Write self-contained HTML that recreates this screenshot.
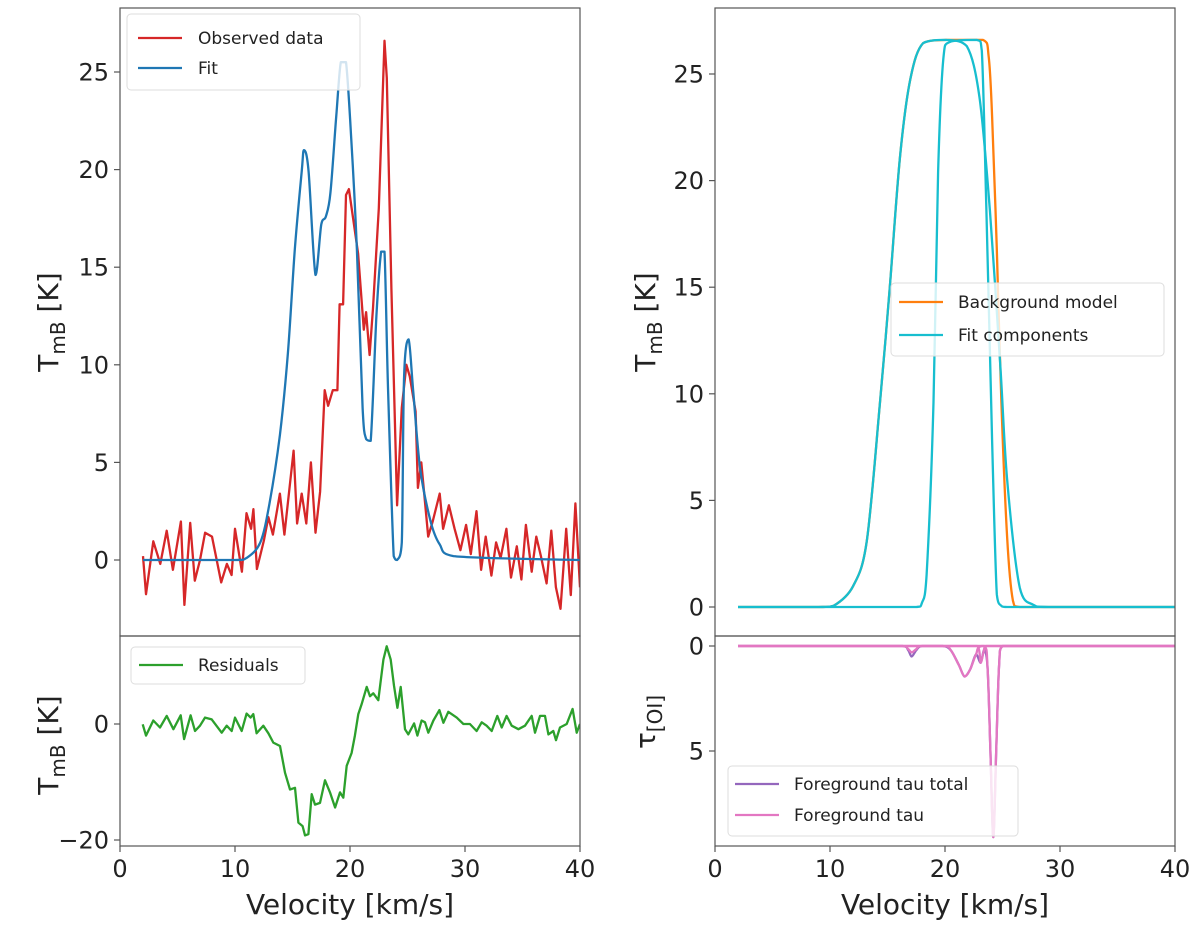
<!DOCTYPE html>
<html><head><meta charset="utf-8">
<style>
body{margin:0;background:#fff;}
svg{display:block;font-family:"DejaVu Sans","Liberation Sans",sans-serif;}
</style></head>
<body>
<svg id="chart" width="1200" height="927" viewBox="0 0 1200 927" xmlns="http://www.w3.org/2000/svg"></svg>
<script>
// ---------- data ----------
const obsV = [2.0,2.26,2.9,3.5,4.06,4.6,5.3,5.6,6.1,6.5,6.96,7.4,8,8.8,9.3,9.7,10,10.6,11,11.4,11.6,11.9,12.5,12.9,13.3,13.9,14.3,15.1,15.4,15.8,16.2,16.6,17,17.4,17.8,18.1,18.5,18.9,19.1,19.4,19.65,19.9,20.3,20.7,21.2,21.4,21.7,22,22.5,23,23.2,23.6,24.1,24.5,24.9,25.2,25.7,25.9,26.2,26.8,27.2,27.8,28.1,28.6,29.1,29.6,30.1,30.5,31,31.4,31.8,32.3,32.7,33.1,33.6,34,34.5,34.9,35.3,35.8,36.2,36.6,37.1,37.5,37.9,38.3,38.8,39.2,39.6,40];
const obsT = [0.2,-1.75,0.96,-0.2,1.5,-0.5,1.97,-2.3,1.9,-1.06,0,1.4,1.2,-1.15,-0.2,-0.77,1.6,-0.6,2.4,1.6,2.6,-0.46,0.98,2.2,1.3,3.4,1.3,5.6,1.87,3.4,1.87,5,1.4,3.5,8.7,7.9,8.7,8.7,13.1,13.1,18.7,19,17.4,15.7,11.8,12.7,10.5,12.9,18,26.6,24.7,13.9,2.8,7.8,10,9.4,7.6,3.7,5,1.2,2,3.4,1.6,2.8,1.6,0.5,1.8,0.3,2.5,-0.5,1.2,-0.8,0.9,0.1,1.6,-0.9,0.7,-1.0,1.8,-0.6,1.2,0.2,-1.2,1.5,-1.4,-2.5,1.6,-1.8,2.9,-1.4];
const fitV = [2,10,11,12.2,13,13.9,14.6,15.2,15.8,16,16.4,17,17.5,17.9,18.3,18.8,19.2,19.65,20.1,20.6,21.1,21.4,21.8,22.3,22.7,23,23.3,23.8,24.1,24.5,24.7,25.1,25.5,26.1,27,27.8,29,40];
const fitT = [0,0,0.1,0.9,2.9,6.4,10.6,15.9,19.9,21,19.9,14.6,17.2,17.6,18.8,22.7,25.5,25.5,21.7,15.9,7.8,6.2,6.1,12.5,15.8,15.8,9.0,0.2,0,0.9,9.4,11.3,8.6,4.7,2,0.8,0.2,0];
const resV = [1.97,2.26,2.9,3.48,4.06,4.64,5.28,5.57,6.14,6.52,6.96,7.39,7.97,8.84,9.28,9.71,10,10.58,11.01,11.36,11.59,11.88,12.46,12.9,13.33,13.91,14.35,14.78,15.22,15.51,15.88,16.09,16.38,16.67,16.96,17.39,17.83,18.26,18.7,19.13,19.42,19.71,20.14,20.43,20.72,21.01,21.45,21.74,22.03,22.46,22.9,23.19,23.54,23.83,24.12,24.41,24.78,25.07,25.57,25.86,26.23,26.52,26.81,27.25,27.77,28.12,28.55,29.28,29.86,30.43,31.01,31.45,31.88,32.32,32.81,33.19,33.62,34.06,34.64,35.22,35.8,36.09,36.52,36.96,37.25,37.68,37.91,38.26,38.84,39.36,39.71,40];
const resT = [-0.05,-2,0.6,-0.6,1.4,-0.9,1.5,-2.6,1.5,-1.2,-0.3,1.1,0.8,-1.5,-0.3,-1.2,1.1,-1.2,1.8,1.1,1.7,-1.6,-0.3,-1.6,-3.2,-3.8,-8.4,-11.3,-11.0,-17.0,-17.6,-19.2,-19.0,-12.1,-13.9,-13.6,-9.7,-11.8,-14.4,-11.8,-12.7,-7.2,-5.0,-2,1.7,3.4,6.4,4.8,5.3,4.1,11.1,13.4,11.1,6.6,2.8,6.4,-0.9,-1.8,0.1,-2,0.6,0.3,-1.5,0.6,2.4,0.2,2.1,1.1,0,0,-1.2,0.3,-0.3,-1.2,1.4,-0.6,1.4,-0.3,-0.9,-0.3,1.4,-1.5,1.4,1.4,-1.8,-1.2,-2.8,-0.6,0,2.6,-1.5,0];
const bgV = [2,9,10.3,12,13.2,14.35,15.2,16.1,17,18.1,20.1,23.3,23.8,24.1,24.5,24.9,25.4,25.9,26.5,40];
const bgT = [0,0,0.05,0.97,3.1,9.6,15,21.2,24.8,26.45,26.6,26.6,25.8,23,16.8,9.6,3.3,0.3,0,0];
const compAV = [2,9,10.3,12,13.2,14.35,15.2,16.1,17,18.1,20.1,21.9,23,23.9,24.8,25.4,26.5,27.7,29,40];
const compAT = [0,0,0.05,0.97,3.1,9.6,15,21.2,24.8,26.45,26.6,26.3,23.9,18.6,11.4,6.0,0.9,0.1,0,0];
const compBV = [2,17.5,18.0,18.4,19.0,19.4,19.85,20.4,22.75,23.2,23.6,24.1,24.5,24.9,25.4,40];
const compBT = [0,0,0.2,1.5,9.6,20.4,25.7,26.5,26.6,26.1,18.6,7.8,0.6,0.05,0,0];
const tau1V = [2,16.3,16.8,17.1,17.5,18,40];
const tau1T = [0,0,0.15,0.3,0.15,0,0];
const tau2V = [2,19.8,20.5,21.2,21.7,22.2,22.7,23.2,40];
const tau2T = [0,0,0.2,0.9,1.45,1.1,0.4,0,0];
const tau3V = [2,22.8,23.1,23.35,23.6,40];
const tau3T = [0,0,0.8,0.3,0,0];
const tau4V = [2,23.4,23.7,23.95,24.2,24.45,24.7,25.0,40];
const tau4T = [0,0,1.0,5.0,9.1,5.0,1.0,0,0];
const totV = [2,16.3,16.8,17.1,17.5,18,19.8,20.5,21.2,21.7,22.2,22.7,23.1,23.4,23.7,23.95,24.2,24.45,24.7,25,40];
const totT = [0,0,0.2,0.5,0.2,0,0,0.2,0.9,1.45,1.1,0.4,0.8,0.2,1,5,9.1,5,1,0,0];
const xTicks = [0,10,20,30,40];
const yTicksTL = [0,5,10,15,20,25];
const yTicksBL = [0,-20];
const yTicksTR = [0,5,10,15,20,25];
const yTicksBR = [0,5];

// ---------- helpers ----------
const svg = document.getElementById('chart');
const NS = 'http://www.w3.org/2000/svg';
function mk(tag, attrs, parent){const e=document.createElementNS(NS,tag);for(const k in attrs)e.setAttribute(k,attrs[k]);(parent||svg).appendChild(e);return e;}
function lin(d0,d1,r0,r1){return v=>r0+(v-d0)*(r1-r0)/(d1-d0);}
function polyPath(xs,ys,sx,sy){return xs.map((v,i)=>(i?'L':'M')+sx(v).toFixed(1)+','+sy(ys[i]).toFixed(1)).join('');}
function smoothPath(xs,ys,sx,sy){
  const p=xs.map((v,i)=>[sx(v),sy(ys[i])]);
  let d='M'+p[0][0].toFixed(1)+','+p[0][1].toFixed(1);
  for(let i=0;i<p.length-1;i++){
    const p0=p[Math.max(0,i-1)],p1=p[i],p2=p[i+1],p3=p[Math.min(p.length-1,i+2)];
    const t=0.16;
    let c1x=p1[0]+(p2[0]-p0[0])*t,c1y=p1[1]+(p2[1]-p0[1])*t;
    let c2x=p2[0]-(p3[0]-p1[0])*t,c2y=p2[1]-(p3[1]-p1[1])*t;
    c1x=Math.min(Math.max(c1x,p1[0]),p2[0]);c2x=Math.min(Math.max(c2x,p1[0]),p2[0]);
    const lo=Math.min(p1[1],p2[1]),hi=Math.max(p1[1],p2[1]);
    c1y=Math.min(Math.max(c1y,lo),hi);c2y=Math.min(Math.max(c2y,lo),hi);
    d+='C'+c1x.toFixed(1)+','+c1y.toFixed(1)+' '+c2x.toFixed(1)+','+c2y.toFixed(1)+' '+p2[0].toFixed(1)+','+p2[1].toFixed(1);
  }
  return d;
}

// panels
const L0=120,L1=580,R0=715,R1=1175,TOP=8,MID=636,BOT=846;
const sxL=lin(0,40,L0,L1), sxR=lin(0,40,R0,R1);
const syTL=lin(0,25,560,72), syBL=lin(0,-20,724,840);
const syTR=lin(0,25,607,74), syBR=lin(0,5,646,751);

// clip paths
const defs=mk('defs',{});
[['cTL',L0,TOP,MID],['cBL',L0,MID,BOT],['cTR',R0,TOP,MID],['cBR',R0,MID,BOT]].forEach(c=>{
  const cp=mk('clipPath',{id:c[0]},defs);
  mk('rect',{x:c[1],y:c[2],width:460,height:c[3]-c[2]},cp);
});

function line(d,color,clip,name){
  const e=mk('path',{d:d,fill:'none',stroke:color,'stroke-width':2.3,'stroke-linejoin':'round','clip-path':'url(#'+clip+')'});
  
  
  return e;
}

// series
line(polyPath(obsV,obsT,sxL,syTL),'#d62728','cTL','observed-data-line');
line(smoothPath(fitV,fitT,sxL,syTL),'#1f77b4','cTL','fit-line');
line(polyPath(resV,resT,sxL,syBL),'#2ca02c','cBL','residuals-line');
line(smoothPath(bgV,bgT,sxR,syTR),'#ff7f0e','cTR','background-model-line');
line(smoothPath(compAV,compAT,sxR,syTR),'#17becf','cTR','fit-component-broad');
line(smoothPath(compBV,compBT,sxR,syTR),'#17becf','cTR','fit-component-narrow');
line(smoothPath(totV,totT,sxR,syBR),'#9467bd','cBR','foreground-tau-total-line');
line(smoothPath(tau1V,tau1T,sxR,syBR),'#e377c2','cBR','foreground-tau-1');
line(smoothPath(tau2V,tau2T,sxR,syBR),'#e377c2','cBR','foreground-tau-2');
line(smoothPath(tau3V,tau3T,sxR,syBR),'#e377c2','cBR','foreground-tau-3');
line(smoothPath(tau4V,tau4T,sxR,syBR),'#e377c2','cBR','foreground-tau-4');

// frames
function frame(x0,y0,x1,y1,name){
  const r=mk('rect',{x:x0,y:y0,width:x1-x0,height:y1-y0,fill:'none',stroke:'#555','stroke-width':1.2});
  
  
}
frame(L0,TOP,L1,MID,'top-left-axes');frame(L0,MID,L1,BOT,'bottom-left-axes');
frame(R0,TOP,R1,MID,'top-right-axes');frame(R0,MID,R1,BOT,'bottom-right-axes');

function yTicks(vals,sy,x0,name){
  vals.forEach(v=>{
    const y=sy(v);
    mk('line',{x1:x0-6,x2:x0,y1:y,y2:y,stroke:'#555','stroke-width':1.2});
    const t=mk('text',{x:x0-11,y:y+8.5,'text-anchor':'end','font-size':24,fill:'#222'});
    t.textContent=v<0?'\u2212'+Math.abs(v):String(v);
    
    
  });
}
yTicks(yTicksTL,syTL,L0,'y-tick-label-top-left');
yTicks(yTicksBL,syBL,L0,'y-tick-label-bottom-left');
yTicks(yTicksTR,syTR,R0,'y-tick-label-top-right');
yTicks(yTicksBR,syBR,R0,'y-tick-label-bottom-right');
function xTicksDraw(sx,name){
  xTicks.forEach(v=>{
    const x=sx(v);
    mk('line',{x1:x,x2:x,y1:BOT,y2:BOT+6,stroke:'#555','stroke-width':1.2});
    const t=mk('text',{x:x,y:BOT+31,'text-anchor':'middle','font-size':24,fill:'#222'});
    t.textContent=String(v);
    
    
  });
}
xTicksDraw(sxL,'x-tick-label-left');xTicksDraw(sxR,'x-tick-label-right');
</script>
<!-- axis titles and legends (static) -->
<svg style="position:absolute;left:0;top:0" width="1200" height="927" font-family="DejaVu Sans, Liberation Sans, sans-serif">
  <text x="350" y="914" text-anchor="middle" font-size="28" fill="#222">Velocity [km/s]</text>
  <text x="945" y="914" text-anchor="middle" font-size="28" fill="#222">Velocity [km/s]</text>
  <text transform="translate(58,322) rotate(-90)" text-anchor="middle" font-size="28" fill="#222">T<tspan font-size="20" dy="7">mB</tspan><tspan dy="-7"> [K]</tspan></text>
  <text transform="translate(58,745) rotate(-90)" text-anchor="middle" font-size="28" fill="#222">T<tspan font-size="20" dy="7">mB</tspan><tspan dy="-7"> [K]</tspan></text>
  <text transform="translate(655,322) rotate(-90)" text-anchor="middle" font-size="28" fill="#222">T<tspan font-size="20" dy="7">mB</tspan><tspan dy="-7"> [K]</tspan></text>
  <text transform="translate(655,722) rotate(-90)" text-anchor="middle" font-size="28" fill="#222">τ<tspan font-size="20" dy="7">[OI]</tspan></text>

  <g>
    <rect x="127" y="14" width="233" height="76" rx="4" fill="#fff" fill-opacity="0.8" stroke="#ddd"/>
    <line x1="138" x2="182" y1="38" y2="38" stroke="#d62728" stroke-width="2.3"/>
    <text x="198" y="44" font-size="17" fill="#222">Observed data</text>
    <line x1="138" x2="182" y1="68" y2="68" stroke="#1f77b4" stroke-width="2.3"/>
    <text x="198" y="74" font-size="17" fill="#222">Fit</text>
  </g>
  <g>
    <rect x="131" y="647" width="174" height="37" rx="4" fill="#fff" fill-opacity="0.8" stroke="#ddd"/>
    <line x1="139" x2="183" y1="665" y2="665" stroke="#2ca02c" stroke-width="2.3"/>
    <text x="198" y="671" font-size="17" fill="#222">Residuals</text>
  </g>
  <g>
    <rect x="891" y="283" width="273" height="73" rx="4" fill="#fff" fill-opacity="0.8" stroke="#ddd"/>
    <line x1="899" x2="943" y1="302" y2="302" stroke="#ff7f0e" stroke-width="2.3"/>
    <text x="958" y="308" font-size="17" fill="#222">Background model</text>
    <line x1="899" x2="943" y1="335" y2="335" stroke="#17becf" stroke-width="2.3"/>
    <text x="958" y="341" font-size="17" fill="#222">Fit components</text>
  </g>
  <g>
    <rect x="728" y="766" width="290" height="70" rx="4" fill="#fff" fill-opacity="0.8" stroke="#ddd"/>
    <line x1="735" x2="779" y1="784" y2="784" stroke="#9467bd" stroke-width="2.3"/>
    <text x="794" y="790" font-size="17" fill="#222">Foreground tau total</text>
    <line x1="735" x2="779" y1="815" y2="815" stroke="#e377c2" stroke-width="2.3"/>
    <text x="794" y="821" font-size="17" fill="#222">Foreground tau</text>
  </g>
</svg>
</body></html>
